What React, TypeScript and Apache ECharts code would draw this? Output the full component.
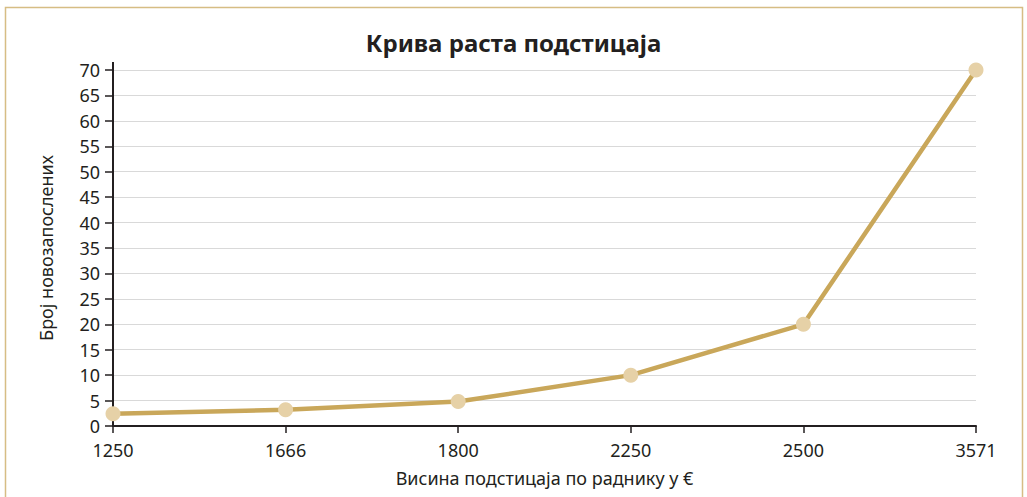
import React, { useEffect, useRef } from "react";
import * as echarts from "echarts";

const categories = ["1250", "1666", "1800", "2250", "2500", "3571"];
const employees = [2.4, 3.2, 4.8, 10, 20, 70];
const titleText = "Крива раста подстицаја";
const xName = "Висина подстицаја по раднику у €";
const yName = "Број новозапослених";

export default function App() {
  const ref = useRef<HTMLDivElement>(null);
  useEffect(() => {
    if (!ref.current) return;
    const chart = echarts.init(ref.current, null, { renderer: "svg" });
    const font = "'Noto Sans', 'Open Sans', sans-serif";
    const textColor = "#231f20";
    chart.setOption({
      animation: false,
      backgroundColor: "#ffffff",
      title: {
        text: titleText,
        left: "center",
        top: 25,
        textStyle: { fontFamily: font, fontSize: 24, fontWeight: "bold", color: textColor },
      },
      grid: { left: 113, right: 51, top: 70, bottom: 71, containLabel: false },
      xAxis: {
        type: "category",
        data: categories,
        boundaryGap: false,
        name: xName,
        nameLocation: "middle",
        nameGap: 43,
        nameTextStyle: { fontFamily: font, fontSize: 18, color: textColor },
        axisLine: { lineStyle: { color: textColor, width: 2 } },
        axisTick: { show: true, length: 7, lineStyle: { color: textColor, width: 1.5 }, alignWithLabel: true },
        axisLabel: { fontFamily: font, fontSize: 18, color: textColor, margin: 15 },
      },
      yAxis: {
        type: "value",
        min: 0,
        max: 70,
        interval: 5,
        name: yName,
        nameLocation: "middle",
        nameGap: 58,
        nameTextStyle: { fontFamily: font, fontSize: 18, color: textColor },
        axisLine: { show: true, lineStyle: { color: textColor, width: 2 } },
        axisTick: { show: true, length: 8, lineStyle: { color: textColor, width: 1.5 } },
        axisLabel: { fontFamily: font, fontSize: 18, color: textColor, margin: 13 },
        splitLine: { lineStyle: { color: "#d9d9d9", width: 1.2 } },
      },
      series: [
        {
          type: "line",
          data: employees,
          lineStyle: { color: "#c9a75a", width: 4.5 },
          itemStyle: { color: "#e6d1a7" },
          symbol: "circle",
          symbolSize: 15,
          z: 3,
        },
      ],
    });
    const top = chart.convertToPixel({ yAxisIndex: 0 }, 70) as number;
    const axisX = chart.convertToPixel({ xAxisIndex: 0 }, "1250") as number;
    chart.setOption({
      graphic: [
        {
          type: "rect",
          shape: { x: 5.5, y: 7.5, width: 1017, height: 500 },
          style: { fill: "none", stroke: "#d6bd84", lineWidth: 1.5 },
          silent: true,
        },
        {
          type: "line",
          shape: { x1: axisX, y1: top, x2: axisX, y2: top - 8 },
          style: { stroke: textColor, lineWidth: 2 },
          silent: true,
        },
      ],
    });
    return () => chart.dispose();
  }, []);
  return (
    <div
      ref={ref}
      style={{ position: "fixed", left: 0, top: 0, width: 1027, height: 497 }}
    />
  );
}
